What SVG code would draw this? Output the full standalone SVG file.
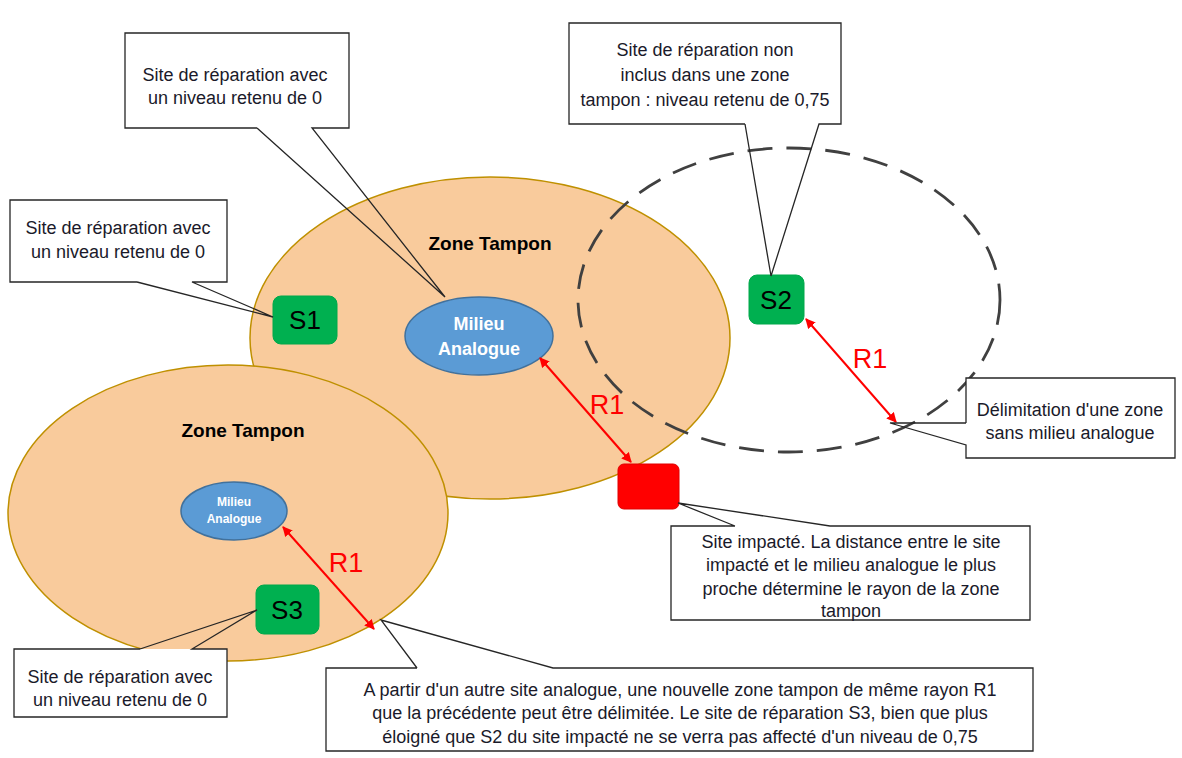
<svg xmlns="http://www.w3.org/2000/svg" width="1182" height="758" viewBox="0 0 1182 758">
<defs>
<marker id="ah" viewBox="0 0 10 10" refX="9" refY="5" markerWidth="5" markerHeight="5" orient="auto-start-reverse" markerUnits="strokeWidth">
<path d="M0,0 L10,5 L0,10 z" fill="#FF0000"/>
</marker>
<style>
.zone{fill:#F9CB9C;stroke:#BF9000;stroke-width:1.5}
.mil{fill:#5B9BD5;stroke:#41719C;stroke-width:1.5}
.miltxt{font-family:"Liberation Sans",Arial,sans-serif;font-weight:bold;fill:#fff;text-anchor:middle}
.site{fill:#00B050;stroke:#00A84A;stroke-width:1}
.stxt{font-family:"Liberation Sans",Arial,sans-serif;font-size:26px;fill:#000;text-anchor:middle}
.zt{font-family:"Liberation Sans",Arial,sans-serif;font-size:19px;font-weight:bold;fill:#000;text-anchor:middle}
.r1{fill:none;stroke:#FF0000;stroke-width:2;marker-start:url(#ah);marker-end:url(#ah)}
.rl{font-family:"Liberation Sans",Arial,sans-serif;font-size:27px;fill:#FF0000;text-anchor:middle}
.box{fill:#fff;stroke:none}
.bl{fill:none;stroke:#262626;stroke-width:1.3}
.ct{font-family:"Liberation Sans",Arial,sans-serif;font-size:18px;fill:#1a1a2a;text-anchor:middle}
</style>
</defs>

<g id="zone1">
<ellipse class="zone" cx="490" cy="338" rx="240" ry="161"/>
<text class="zt" x="490" y="250">Zone Tampon</text>
</g>
<g id="zone-dashed">
<ellipse cx="789" cy="300" rx="211" ry="152" fill="none" stroke="#404040" stroke-width="2.8" stroke-dasharray="25,14"/>
</g>
<g id="zone2">
<ellipse class="zone" cx="228" cy="513" rx="220" ry="148"/>
<text class="zt" x="243" y="437">Zone Tampon</text>
</g>

<g id="milieu1">
<ellipse class="mil" cx="479" cy="336" rx="74" ry="39"/>
<text class="miltxt" font-size="18" x="479" y="330">Milieu</text>
<text class="miltxt" font-size="18" x="479" y="355">Analogue</text>
</g>
<g id="milieu2">
<ellipse class="mil" cx="234" cy="511" rx="53" ry="29"/>
<text class="miltxt" font-size="12" x="234" y="506">Milieu</text>
<text class="miltxt" font-size="12" x="234" y="523">Analogue</text>
</g>

<g id="S1">
<rect class="site" x="273" y="296" width="64" height="48" rx="8"/>
<text class="stxt" x="305" y="329">S1</text>
</g>
<g id="S2">
<rect class="site" x="749" y="275" width="55" height="49" rx="8"/>
<text class="stxt" x="776" y="309">S2</text>
</g>
<g id="S3">
<rect class="site" x="256" y="585" width="63" height="49" rx="8"/>
<text class="stxt" x="287" y="619">S3</text>
</g>
<g id="site-impacte">
<rect x="618" y="464" width="61" height="45" rx="6" fill="#FF0000" stroke="#E00000" stroke-width="1"/>
</g>

<g id="connectors">
<line class="r1" x1="540" y1="358" x2="631" y2="462"/>
<line class="r1" x1="806" y1="319" x2="896" y2="422"/>
<line class="r1" x1="283" y1="527" x2="374" y2="629"/>
</g>
<g id="r1-labels">
<text class="rl" x="607" y="414">R1</text>
<text class="rl" x="870" y="368">R1</text>
<text class="rl" x="346" y="572">R1</text>
</g>

<g id="callout-top">
<rect class="box" x="125" y="33" width="224" height="95"/>
<path class="bl" d="M257,128 H125 V33 H349 V128 H312 L445,297 L257,128"/>
<text class="ct" x="235" y="81">Site de réparation avec</text>
<text class="ct" x="235" y="104">un niveau retenu de 0</text>
</g>

<g id="callout-top-right">
<rect class="box" x="569" y="23" width="272" height="101"/>
<path class="bl" d="M745,124 H569 V23 H841 V124 H819 L771,276 L745,124"/>
<text class="ct" x="705" y="56">Site de réparation non</text>
<text class="ct" x="705" y="81">inclus dans une zone</text>
<text class="ct" x="705" y="106">tampon : niveau retenu de 0,75</text>
</g>

<g id="callout-S1">
<rect class="box" x="10" y="200" width="217" height="82"/>
<path class="bl" d="M137,282 H10 V200 H227 V282 H192 L273,317 L137,282" stroke-width="2"/>
<text class="ct" x="118" y="234">Site de réparation avec</text>
<text class="ct" x="118" y="258">un niveau retenu de 0</text>
</g>

<g id="callout-S3">
<rect class="box" x="14" y="649" width="213" height="68"/>
<path class="bl" d="M140,649 H14 V717 H227 V649 H192 L257,610 L140,649"/>
<text class="ct" x="120" y="683">Site de réparation avec</text>
<text class="ct" x="120" y="706">un niveau retenu de 0</text>
</g>

<g id="callout-impacte">
<rect class="box" x="671" y="526" width="359" height="94"/>
<path class="bl" d="M735,526 H671 V620 H1030 V526 H830 L678,503 L735,526"/>
<text class="ct" x="851" y="548">Site impacté. La distance entre le site</text>
<text class="ct" x="851" y="571">impacté et le milieu analogue le plus</text>
<text class="ct" x="851" y="595">proche détermine le rayon de la zone</text>
<text class="ct" x="851" y="617">tampon</text>
</g>

<g id="callout-delimitation">
<rect class="box" x="966" y="378" width="209" height="80"/>
<path class="bl" d="M966,423 V378 H1175 V458 H966 V445 L890,423 L966,423"/>
<text class="ct" x="1070" y="416">Délimitation d'une zone</text>
<text class="ct" x="1070" y="439">sans milieu analogue</text>
</g>

<g id="callout-bottom">
<rect class="box" x="326" y="668" width="707" height="83"/>
<path class="bl" d="M417,668 H326 V751 H1033 V668 H553 L381,620 L417,668"/>
<text class="ct" x="680" y="696">A partir d'un autre site analogue, une nouvelle zone tampon de même rayon R1</text>
<text class="ct" x="680" y="719">que la précédente peut être délimitée. Le site de réparation S3, bien que plus</text>
<text class="ct" x="680" y="743">éloigné que S2 du site impacté ne se verra pas affecté d'un niveau de 0,75</text>
</g>
</svg>
